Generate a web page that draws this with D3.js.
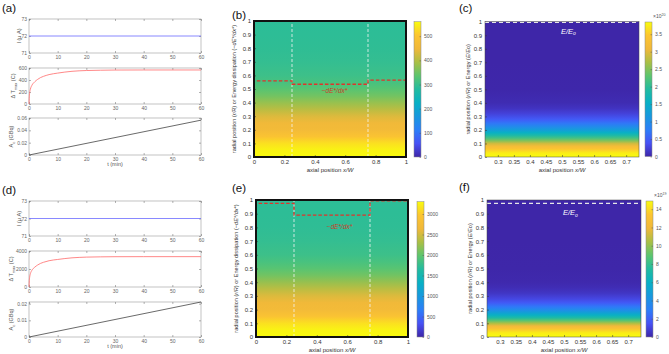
<!DOCTYPE html>
<html><head><meta charset="utf-8">
<script src="https://cdn.jsdelivr.net/npm/d3@7"></script>
<style>
body{margin:0;background:#fff}
svg text{font-family:"Liberation Sans",Arial,sans-serif}
</style></head><body><div id="container"></div>
<script>
// heating curves, time in minutes
var timeMin   = [0, 0.1, 0.25, 0.5, 1, 2, 3, 4, 5, 7, 10, 15, 20, 25, 30, 40, 60];
var tempRiseA = [0, 120, 190, 250, 310, 370, 410, 440, 460, 490, 515, 545, 558, 563, 566, 567, 567];
var tempRiseD = [0, 700, 1130, 1490, 1850, 2200, 2440, 2620, 2740, 2920, 3060, 3240, 3320, 3350, 3365, 3372, 3372];
var lineTime  = [0, 60];
var currentA  = [72, 72];
var currentD  = [72, 72];
var activityA = [0, 0.0565];
var activityD = [0, 0.021];
var timeTicks = [0, 10, 20, 30, 40, 50, 60];

// radial profiles of the energy dissipation (b, e)
var radialDiss = [0, 0.05, 0.1, 0.15, 0.2, 0.25, 0.3, 0.35, 0.4, 0.45, 0.5, 0.55, 0.6, 0.7, 0.8, 0.9, 1.0];
var dissB = [560, 552, 532, 495, 462, 452, 432, 405, 378, 352, 332, 316, 306, 297, 293, 291, 290];
var dissE = [3300, 3255, 3135, 2915, 2720, 2665, 2545, 2390, 2230, 2075, 1955, 1865, 1805, 1750, 1725, 1715, 1710];
// red dashed -dE*/dx* curves (x/W, r/R)
var dissLineX = [0, 0, 0.25, 0.25, 0.75, 0.75, 1, 1];
var dissLineB = [0.5, 0.56, 0.56, 0.535, 0.535, 0.565, 0.565, 0.5];
var dissLineE = [0.875, 0.976, 0.976, 0.89, 0.89, 0.993, 0.993, 0.87];

// radial profiles of the energy (c, f)
var radialEnergy = [0, 0.03, 0.06, 0.08, 0.1, 0.12, 0.14, 0.16, 0.18, 0.2, 0.22, 0.25, 0.28, 0.32, 0.36, 0.4, 0.5, 0.7, 1];
var energyC = [3.85, 3.75, 3.45, 3.2, 2.9, 2.5, 2.15, 1.85, 1.55, 1.25, 1.0, 0.7, 0.45, 0.25, 0.12, 0.05, 0.01, 0, 0];
var energyF = [14.9, 14.5, 13.2, 12, 10.5, 8.8, 7.3, 6, 4.8, 3.7, 2.8, 1.8, 1.1, 0.55, 0.25, 0.1, 0.02, 0, 0];

var radialTicks = d3.range(0, 11).map(function(i) { return i / 10; });
var axialTicks = [0, 0.2, 0.4, 0.6, 0.8, 1];
var axialTicksZoom = [0.3, 0.35, 0.4, 0.45, 0.5, 0.55, 0.6, 0.65, 0.7];

var parulaHex = ["#3e26a8", "#4751f5", "#2c7ef8", "#1898de", "#08b0c5", "#22bba0", "#5cc56e", "#aabf45", "#f0b83a", "#fcc531", "#f9fb0e"];
var parula = d3.piecewise(d3.interpolateRgb, parulaHex);

var svg = d3.select("#container").append("svg")
    .attr("width", 669)
    .attr("height", 354);
var defs = svg.append("defs");

function styleAxis(sel, size, color, family) {
    sel.select(".domain").remove();
    sel.attr("font-size", size).attr("font-family", family || "Liberation Sans, Arial, sans-serif");
    sel.selectAll("text").attr("fill", color);
    sel.selectAll("line").attr("stroke", color).attr("stroke-width", 0.5);
}

function linePanel(box, yDomain, yTicks, yFmt, xs, ys, color, label, labelOff) {
    var x = d3.scaleLinear().domain([0, 60]).range([box.left, box.right]);
    var y = d3.scaleLinear().domain(yDomain).range([box.bottom, box.top]);
    var g = svg.append("g");

    g.append("rect")
        .attr("x", box.left).attr("y", box.top)
        .attr("width", box.right - box.left).attr("height", box.bottom - box.top)
        .attr("fill", "#fff").attr("stroke", "#999").attr("stroke-width", 0.6);

    g.append("g").attr("transform", "translate(0," + box.bottom + ")")
        .call(d3.axisBottom(x).tickValues(timeTicks).tickSize(-2).tickPadding(2.5))
        .call(styleAxis, 5, "#666");
    g.append("g").attr("transform", "translate(0," + box.top + ")")
        .call(d3.axisTop(x).tickValues(timeTicks).tickSize(-2).tickFormat(""))
        .call(styleAxis, 5, "#666");
    g.append("g").attr("transform", "translate(" + box.left + ",0)")
        .call(d3.axisLeft(y).tickValues(yTicks).tickFormat(yFmt).tickSize(-2).tickPadding(2))
        .call(styleAxis, 5, "#666");
    g.append("g").attr("transform", "translate(" + box.right + ",0)")
        .call(d3.axisRight(y).tickValues(yTicks).tickSize(-2).tickFormat(""))
        .call(styleAxis, 5, "#666");

    var line = d3.line()
        .x(function(d, i) { return x(xs[i]); })
        .y(function(d) { return y(d); })
        .curve(d3.curveMonotoneX);
    g.append("path")
        .datum(ys)
        .attr("d", line)
        .attr("fill", "none")
        .attr("stroke", color)
        .attr("stroke-width", 0.8);

    var t = g.append("text")
        .attr("transform", "translate(" + (box.left - labelOff) + "," + ((box.top + box.bottom) / 2) + ") rotate(-90)")
        .attr("text-anchor", "middle")
        .attr("font-size", 5.5)
        .attr("fill", "#555");
    label.forEach(function(p) {
        var s = t.append("tspan").text(p[0]);
        if (p[1] === "sub") s.attr("font-size", 4).attr("dy", 1.5);
        if (p[1] === "back") s.attr("dy", -1.5);
    });
}

function heatPanel(o) {
    var x = d3.scaleLinear().domain(o.xDomain).range([o.left, o.right]);
    var y = d3.scaleLinear().domain([0, 1]).range([o.bottom, o.top]);
    var c = d3.scaleLinear().domain([0, o.vmax]).range([o.cbBottom, o.cbTop]);
    var g = svg.append("g");

    var grad = defs.append("linearGradient")
        .attr("id", o.id)
        .attr("gradientUnits", "userSpaceOnUse")
        .attr("x1", 0).attr("x2", 0)
        .attr("y1", y(0)).attr("y2", y(1));
    grad.selectAll("stop").data(o.radial).enter().append("stop")
        .attr("offset", function(d) { return d; })
        .attr("stop-color", function(d, i) { return parula(o.values[i] / o.vmax); });

    g.append("rect")
        .attr("x", o.left).attr("y", o.top)
        .attr("width", o.right - o.left).attr("height", o.bottom - o.top)
        .attr("fill", "url(#" + o.id + ")");

    var serif = "Liberation Serif, DejaVu Serif, serif";
    g.append("g").attr("transform", "translate(0," + o.bottom + ")")
        .call(d3.axisBottom(x).tickValues(o.xTicks).tickSize(-2).tickPadding(3).tickFormat(d3.format("~g")))
        .call(styleAxis, 6, "#333", serif);
    g.append("g").attr("transform", "translate(" + o.left + ",0)")
        .call(d3.axisLeft(y).tickValues(radialTicks).tickSize(-2).tickPadding(3).tickFormat(d3.format("~g")))
        .call(styleAxis, 6, "#333", serif);

    // overlays
    if (o.overlay) o.overlay(g, x, y);

    g.append("rect")
        .attr("x", o.left).attr("y", o.top)
        .attr("width", o.right - o.left).attr("height", o.bottom - o.top)
        .attr("fill", "none")
        .attr("stroke", o.thick ? "#111" : "#444")
        .attr("stroke-width", o.thick ? 2 : 0.5);

    // axis labels
    g.append("text")
        .attr("x", (o.left + o.right) / 2).attr("y", o.bottom + 15)
        .attr("text-anchor", "middle").attr("font-size", 6).attr("fill", "#333")
        .attr("font-family", serif)
        .call(function(t) {
            t.append("tspan").text("axial position ");
            t.append("tspan").attr("font-style", "italic").text("x/W");
        });
    g.append("text")
        .attr("transform", "translate(" + o.ylabX + "," + ((o.top + o.bottom) / 2) + ") rotate(-90)")
        .attr("text-anchor", "middle").attr("font-size", 5.6).attr("fill", "#333")
        .attr("font-family", serif)
        .call(function(t) {
            o.ylabel.forEach(function(p) {
                var s = t.append("tspan").text(p[0]);
                if (p[1]) s.attr("font-style", "italic");
            });
        });

    // colorbar
    var cbId = o.id + "cb";
    var cbGrad = defs.append("linearGradient")
        .attr("id", cbId)
        .attr("x1", 0).attr("x2", 0).attr("y1", 1).attr("y2", 0);
    cbGrad.selectAll("stop").data(parulaHex).enter().append("stop")
        .attr("offset", function(d, i) { return i / (parulaHex.length - 1); })
        .attr("stop-color", function(d) { return d; });
    g.append("rect")
        .attr("x", o.cbX).attr("y", o.cbTop)
        .attr("width", o.cbW).attr("height", o.cbBottom - o.cbTop)
        .attr("fill", "url(#" + cbId + ")")
        .attr("stroke", "#888").attr("stroke-width", 0.5);
    g.append("g").attr("transform", "translate(" + (o.cbX + o.cbW) + ",0)")
        .call(d3.axisRight(c).tickValues(o.cbTicks).tickSize(-1.5).tickPadding(3).tickFormat(d3.format("~g")))
        .call(styleAxis, 5, "#555");
    if (o.exp) {
        g.append("text")
            .attr("x", o.cbX + o.cbW + 1).attr("y", o.cbTop - 4)
            .attr("font-size", 5).attr("fill", "#555")
            .call(function(t) {
                t.append("tspan").text("×10");
                t.append("tspan").attr("font-size", 3.6).attr("dy", -2).text(o.exp);
            });
    }
}

function panelLetter(txt, px, py) {
    svg.append("text").attr("x", px).attr("y", py)
        .attr("font-size", 11.5).attr("fill", "#111").text(txt);
}

// ---- left column: time curves ----
var tickFmt = d3.format("~g");
linePanel({left: 29, right: 201, top: 19, bottom: 53}, [71, 73], [71, 72, 73], tickFmt,
    lineTime, currentA, "#6b6bff", [["I (μ A)"]], 8);
linePanel({left: 29, right: 201, top: 68, bottom: 104}, [0, 600], [0, 200, 400, 600], tickFmt,
    timeMin, tempRiseA, "#ff6a6a", [["Δ T"], ["max", "sub"], [" (C)", "back"]], 14);
linePanel({left: 29, right: 201, top: 118, bottom: 155}, [0, 0.06], [0, 0.02, 0.04, 0.06], tickFmt,
    lineTime, activityA, "#444", [["A"], ["c", "sub"], [" (GBq)", "back"]], 16);

linePanel({left: 29, right: 201, top: 201, bottom: 236}, [71, 73], [71, 72, 73], tickFmt,
    lineTime, currentD, "#6b6bff", [["I (μ A)"]], 8);
linePanel({left: 29, right: 201, top: 251, bottom: 287}, [0, 4000], [0, 2000, 4000], tickFmt,
    timeMin, tempRiseD, "#ff6a6a", [["Δ T"], ["max", "sub"], [" (C)", "back"]], 16);
linePanel({left: 29, right: 201, top: 302, bottom: 337}, [0, 0.021], [0, 0.01, 0.02], tickFmt,
    lineTime, activityD, "#444", [["A"], ["c", "sub"], [" (GBq)", "back"]], 16);

svg.append("text").attr("x", 115).attr("y", 166).attr("text-anchor", "middle")
    .attr("font-size", 5.5).attr("fill", "#555").text("t (min)");
svg.append("text").attr("x", 115).attr("y", 348).attr("text-anchor", "middle")
    .attr("font-size", 5.5).attr("fill", "#555").text("t (min)");

// ---- overlays ----
function dissOverlay(lineY, labX, labY) {
    return function(g, x, y) {
        [0.25, 0.75].forEach(function(v) {
            g.append("line")
                .attr("x1", x(v)).attr("x2", x(v)).attr("y1", y(0)).attr("y2", y(1))
                .attr("stroke", "#f4f4f4").attr("stroke-width", 0.8).attr("stroke-dasharray", "3,2");
        });
        var line = d3.line()
            .x(function(d, i) { return x(dissLineX[i]); })
            .y(function(d) { return y(d); });
        g.append("path").datum(lineY).attr("d", line)
            .attr("fill", "none").attr("stroke", "#e0332b")
            .attr("stroke-width", 1.3).attr("stroke-dasharray", "3.5,2");
        g.append("text")
            .attr("x", x(labX)).attr("y", y(labY))
            .attr("text-anchor", "middle").attr("font-size", 6.5)
            .attr("font-family", "Liberation Serif, DejaVu Serif, serif")
            .attr("font-style", "italic").attr("fill", "#c9402a")
            .text("−dE*/dx*");
    };
}
function energyOverlay(lineR, labX, labY) {
    return function(g, x, y) {
        g.append("line")
            .attr("x1", x.range()[0]).attr("x2", x.range()[1]).attr("y1", y(lineR)).attr("y2", y(lineR))
            .attr("stroke", "#e6e6e6").attr("stroke-width", 1.2).attr("stroke-dasharray", "4,3");
        g.append("text")
            .attr("x", x(labX)).attr("y", y(labY))
            .attr("text-anchor", "middle").attr("font-size", 7.5)
            .attr("font-family", "Liberation Serif, DejaVu Serif, serif")
            .attr("font-style", "italic").attr("fill", "#fff")
            .call(function(t) {
                t.append("tspan").text("E/E");
                t.append("tspan").attr("font-size", 5).attr("dy", 1.5).text("o");
            });
    };
}

var dissLabel = [["radial position ("], ["r/R", 1], [") or Energy dissipation ("], ["−dE*/dx*", 1], [")"]];
var energyLabel = [["radial position ("], ["r/R", 1], [") or Energy ("], ["E/E", 1], ["o"], [")"]];

heatPanel({id: "hb", left: 254, right: 406, top: 21, bottom: 157, xDomain: [0, 1], xTicks: axialTicks,
    radial: radialDiss, values: dissB, vmax: 560, thick: true, ylabX: 236, ylabel: dissLabel,
    cbX: 414, cbW: 7, cbTop: 21.7, cbBottom: 157, cbTicks: [0, 100, 200, 300, 400, 500],
    overlay: dissOverlay(dissLineB, 0.53, 0.47)});
heatPanel({id: "he", left: 256, right: 408, top: 200, bottom: 337, xDomain: [0, 1], xTicks: axialTicks,
    radial: radialDiss, values: dissE, vmax: 3300, thick: true, ylabX: 238, ylabel: dissLabel,
    cbX: 417, cbW: 7, cbTop: 201.7, cbBottom: 337, cbTicks: [0, 500, 1000, 1500, 2000, 2500, 3000],
    overlay: dissOverlay(dissLineE, 0.55, 0.79)});
heatPanel({id: "hc", left: 485, right: 639, top: 21.7, bottom: 157, xDomain: [0.26, 0.74], xTicks: axialTicksZoom,
    radial: radialEnergy, values: energyC, vmax: 3.85, thick: false, ylabX: 470, ylabel: energyLabel,
    cbX: 645, cbW: 7, cbTop: 22, cbBottom: 156.5, cbTicks: [0, 0.5, 1, 1.5, 2, 2.5, 3, 3.5], exp: "20",
    overlay: energyOverlay(0.995, 0.52, 0.91)});
heatPanel({id: "hf", left: 487, right: 641, top: 200, bottom: 337, xDomain: [0.26, 0.74], xTicks: axialTicksZoom,
    radial: radialEnergy, values: energyF, vmax: 14.9, thick: false, ylabX: 472, ylabel: energyLabel,
    cbX: 646, cbW: 7, cbTop: 201, cbBottom: 337, cbTicks: [0, 2, 4, 6, 8, 10, 12, 14], exp: "19",
    overlay: energyOverlay(0.975, 0.52, 0.89)});

panelLetter("(a)", 2, 12);
panelLetter("(b)", 232, 19);
panelLetter("(c)", 459, 12);
panelLetter("(d)", 2, 194);
panelLetter("(e)", 232, 192);
panelLetter("(f)", 459, 191);
</script>
</body></html>
